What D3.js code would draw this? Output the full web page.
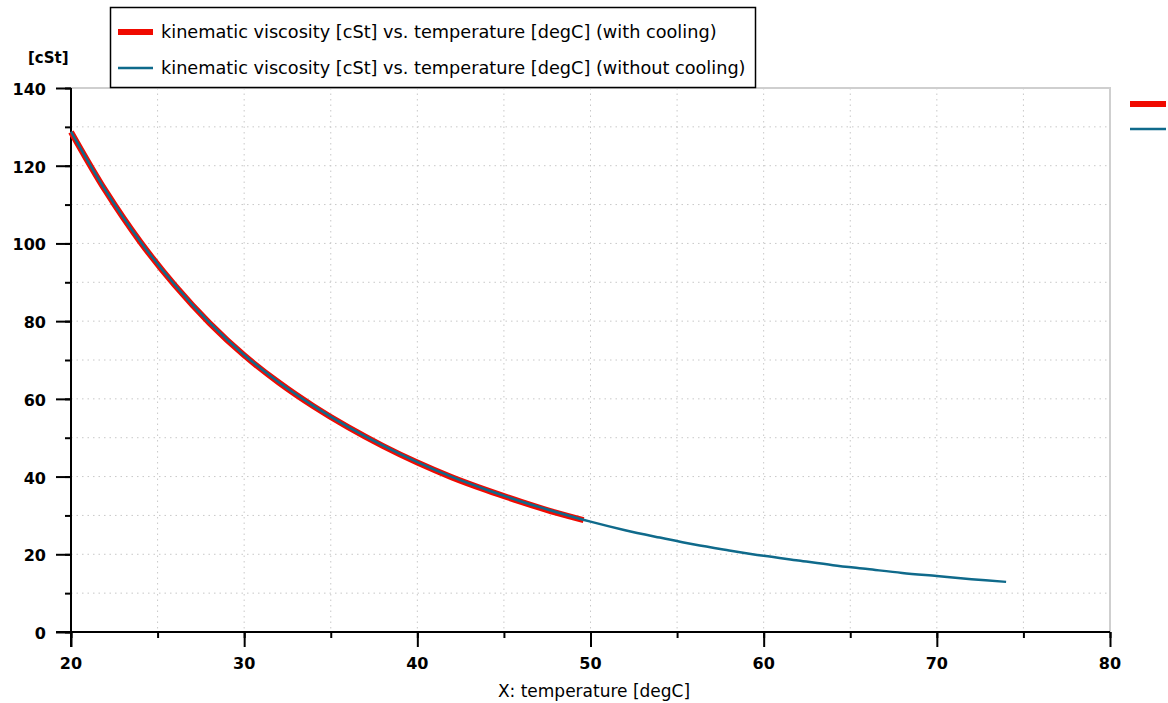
<!DOCTYPE html>
<html lang="en">
<head>
<meta charset="UTF-8">
<title>kinematic viscosity vs. temperature</title>
<script src="https://d3js.org/d3.v7.min.js"></script>
<style>
  html, body { margin: 0; padding: 0; background: #fff; }
  svg { display: block; font-family: 'DejaVu Sans', Verdana, sans-serif; }
  .tick-lbl { font-weight: bold; font-size: 16px; fill: #000; }
  .grid line { stroke: #c8c8c8; stroke-dasharray: 1.5 4; }
</style>
</head>
<body>
<svg id="chart" width="1168" height="703"></svg>
<script>
  // temperatures [degC] and viscosity [cSt]
  const tempNoCool = [20, 22, 24, 26, 28, 30, 32, 34, 36, 38, 40, 42, 44, 46, 48, 50,
                      52, 54, 56, 58, 60, 62, 64, 66, 68, 70, 72, 74];
  const viscNoCool = [128.8, 113.6, 100.5, 89.3, 79.6, 71.3, 64.3, 58.2, 52.8, 48.0, 43.7, 39.9,
                      36.6, 33.6, 30.9, 28.4, 26.2, 24.3, 22.5, 21.0, 19.6, 18.4, 17.2, 16.2,
                      15.2, 14.4, 13.6, 12.9];
  const tempCool = [20, 22, 24, 26, 28, 30, 32, 34, 36, 38, 40, 42, 44, 46, 48, 49.6];
  const viscCool = [128.7, 113.5, 100.4, 89.2, 79.5, 71.2, 64.2, 58.1, 52.7, 47.9, 43.6, 39.8,
                    36.5, 33.5, 30.7, 28.8];

  const xTicks = [20, 30, 40, 50, 60, 70, 80];
  const yTicks = [0, 20, 40, 60, 80, 100, 120, 140];
  const legendLabels = [
    "kinematic viscosity [cSt] vs. temperature [degC] (with cooling)",
    "kinematic viscosity [cSt] vs. temperature [degC] (without cooling)"
  ];

  const RED = "#f00a00", BLUE = "#0f6a8b";

  const svg = d3.select("#chart");
  const plot = { left: 71, right: 1110, top: 88, bottom: 632 };

  const x = d3.scaleLinear().domain([20, 80]).range([plot.left, plot.right]);
  const y = d3.scaleLinear().domain([0, 140]).range([plot.bottom, plot.top]);

  const minorX = d3.range(20, 80.1, 5);
  const minorY = d3.range(0, 140.1, 10);

  // grid
  const grid = svg.append("g").attr("class", "grid");
  grid.selectAll("line.v").data(minorX.filter(d => d > 20 && d < 80)).join("line")
    .attr("x1", d => x(d)).attr("x2", d => x(d))
    .attr("y1", plot.top).attr("y2", plot.bottom);
  grid.selectAll("line.h").data(minorY.filter(d => d > 0 && d < 140)).join("line")
    .attr("x1", plot.left).attr("x2", plot.right)
    .attr("y1", d => y(d)).attr("y2", d => y(d));

  // frame (top and right)
  svg.append("path")
    .attr("d", `M${plot.left},${plot.top}H${plot.right}V${plot.bottom}`)
    .attr("fill", "none").attr("stroke", "#cfcfcf").attr("stroke-width", 2);

  // axes
  const xAxis = svg.append("g").attr("transform", `translate(0,${plot.bottom})`);
  xAxis.call(d3.axisBottom(x).tickValues(minorX).tickSize(6).tickFormat(""))
    .call(g => g.select(".domain").remove());
  xAxis.append("g").call(d3.axisBottom(x).tickValues(xTicks).tickSize(15).tickFormat(""))
    .call(g => g.select(".domain").remove());
  xAxis.selectAll("line").attr("stroke", "#000").attr("stroke-width", 2);

  const yAxis = svg.append("g").attr("transform", `translate(${plot.left},0)`);
  yAxis.call(d3.axisLeft(y).tickValues(minorY).tickSize(6).tickFormat(""))
    .call(g => g.select(".domain").remove());
  yAxis.append("g").call(d3.axisLeft(y).tickValues(yTicks).tickSize(15).tickFormat(""))
    .call(g => g.select(".domain").remove());
  yAxis.selectAll("line").attr("stroke", "#000").attr("stroke-width", 2);

  svg.append("line").attr("x1", plot.left - 15).attr("x2", plot.right)
    .attr("y1", plot.bottom).attr("y2", plot.bottom).attr("stroke", "#000").attr("stroke-width", 2);
  svg.append("line").attr("x1", plot.left).attr("x2", plot.left)
    .attr("y1", plot.top).attr("y2", plot.bottom + 15).attr("stroke", "#000").attr("stroke-width", 2);

  svg.append("g").selectAll("text").data(xTicks).join("text")
    .attr("class", "tick-lbl").attr("x", d => x(d)).attr("y", 669)
    .attr("text-anchor", "middle").text(d => d);
  svg.append("g").selectAll("text").data(yTicks).join("text")
    .attr("class", "tick-lbl").attr("x", 46).attr("y", d => y(d) + 7)
    .attr("text-anchor", "end").text(d => d);

  svg.append("text").attr("class", "tick-lbl").attr("x", 28).attr("y", 63)
    .style("font-size", "15px").text("[cSt]");
  svg.append("text").attr("x", 594).attr("y", 697).attr("text-anchor", "middle")
    .style("font-size", "17px").text("X: temperature [degC]");

  // curves
  const line = d3.line().x(d => x(d[0])).y(d => y(d[1])).curve(d3.curveCatmullRom);
  svg.append("path").datum(d3.zip(tempCool, viscCool))
    .attr("d", line).attr("fill", "none").attr("stroke", RED).attr("stroke-width", 6);
  svg.append("path").datum(d3.zip(tempNoCool, viscNoCool))
    .attr("d", line).attr("fill", "none").attr("stroke", BLUE).attr("stroke-width", 2.5);

  // legend box
  const leg = svg.append("g");
  leg.append("rect").attr("x", 110.5).attr("y", 7.5).attr("width", 645).attr("height", 80)
    .attr("fill", "#fff").attr("stroke", "#000").attr("stroke-width", 1.5);
  const legY = [32, 68], legW = [6, 2.5], legC = [RED, BLUE];
  legendLabels.forEach((t, i) => {
    leg.append("line").attr("x1", 118).attr("x2", 153).attr("y1", legY[i]).attr("y2", legY[i])
      .attr("stroke", legC[i]).attr("stroke-width", legW[i]);
    leg.append("text").attr("x", 161).attr("y", legY[i] + 6).style("font-size", "17.7px").text(t);
  });

  // right side markers
  [104, 129].forEach((yy, i) => {
    svg.append("line").attr("x1", 1130).attr("x2", 1166).attr("y1", yy).attr("y2", yy)
      .attr("stroke", legC[i]).attr("stroke-width", legW[i]);
  });
</script>
</body>
</html>
